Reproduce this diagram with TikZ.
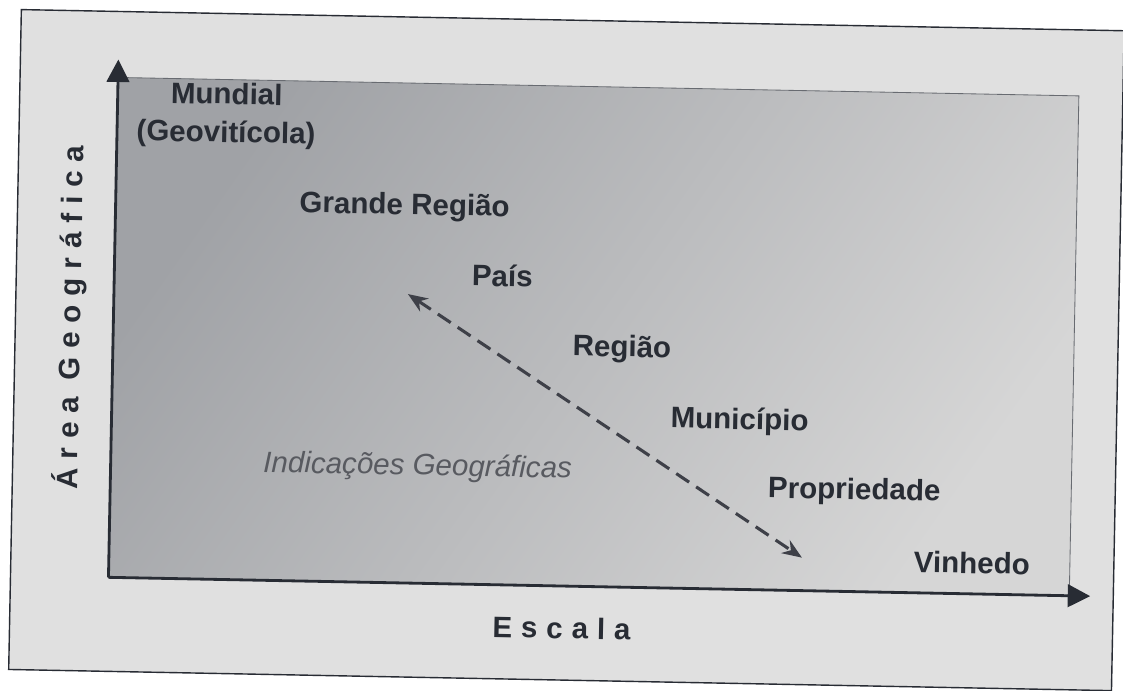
\documentclass[tikz,border=0pt]{standalone}
\usepackage{fontspec}
\setmainfont{Liberation Sans}
\usetikzlibrary{arrows.meta, positioning}
\definecolor{inkdark}{RGB}{40,44,52}
\definecolor{inksoft}{RGB}{88,90,96}
\definecolor{dashink}{RGB}{62,64,72}
\definecolor{paperbg}{RGB}{224,224,224}
\definecolor{paneldark}{RGB}{160,162,166}
\definecolor{panellight}{RGB}{214,214,214}

\begin{document}
\begin{tikzpicture}[x=0.025cm, y=-0.025cm,
  level/.style={font=\fontsize{21}{27}\selectfont\bfseries, text=inkdark, align=center, inner sep=0pt},
  axislabel/.style={font=\fontsize{21}{25}\selectfont\bfseries\addfontfeature{LetterSpace=30}, text=inkdark, inner sep=0pt},
  axisline/.style={line width=2pt, draw=inkdark, -{Triangle[length=16pt, width=16pt]}},
  scalearrow/.style={line width=2.2pt, draw=dashink, dash pattern=on 11pt off 6pt,
    {Stealth[length=14pt, width=11pt]}-{Stealth[length=14pt, width=11pt]}}]
  \useasboundingbox (0,0) rectangle (1123,690);
  \fill[white] (0,0) rectangle (1123,690);

  \begin{scope}[rotate around={-1.1:(561,345)}, transform shape]
  % sheet and panel
  \draw[fill=paperbg, line width=1pt, draw=inkdark] (15,20) rectangle (1118,680);
  \draw[left color=paneldark, right color=panellight, shading angle=55, draw=inkdark!70, line width=0.6pt]
    (113,86) rectangle (1074,586);

  % axes
  \coordinate (origin) at (113,586);
  \coordinate (ytip) at (113,68);
  \coordinate (xtip) at (1095,586);
  \draw[axisline] (origin) -- (ytip);
  \draw[axisline] (origin) -- (xtip);
  \node[axislabel, rotate=90] (ylabel) at (70,327) {Área Geográfica};
  \node[axislabel] (xlabel) at (567,628) {Escala};

  % levels
  \node[level] (mundial) at (222,122) {Mundial\\(Geovitícola)};
  \node[level] (grande) at (402,210) {Grande Região};
  \node[level] (pais) at (501,277) {País};
  \node[level] (regiao) at (622,348) {Região};
  \node[level] (municipio) at (741,418) {Município};
  \node[level] (propriedade) at (857,486) {Propriedade};
  \node[level] (vinhedo) at (976,555) {Vinhedo};
  \node[level, font=\fontsize{21}{27}\selectfont\itshape, text=inksoft] (ig) at (420,470) {Indicações Geográficas};

  \coordinate (scaleNW) at (407,297);
  \coordinate (scaleSE) at (806,553);
  \draw[scalearrow] (scaleNW) -- (scaleSE);
  \end{scope}
\end{tikzpicture}
\end{document}
